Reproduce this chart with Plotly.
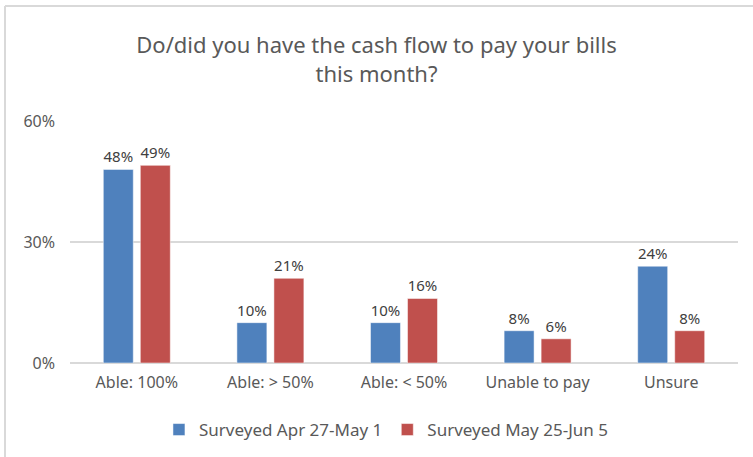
import plotly.graph_objects as go

categories = ["Able: 100%", "Able: > 50%", "Able: < 50%", "Unable to pay", "Unsure"]
series_names = ["Surveyed Apr 27-May 1", "Surveyed May 25-Jun 5"]
apr_values = [48, 10, 10, 8, 24]
may_values = [49, 21, 16, 6, 8]
y_ticks = [0, 30, 60]
y_tick_labels = ["0%", "30%", "60%"]
colors = ["#4F81BD", "#C0504D"]

FONT = "Noto Sans"
fig = go.Figure()
for name, vals, col in zip(series_names, [apr_values, may_values], colors):
    fig.add_trace(go.Bar(
        x=categories, y=vals, name=name,
        marker=dict(color=col, line=dict(color="white", width=0.5)),
        text=[f"{v}%" for v in vals], textposition="outside",
        textfont=dict(family=FONT, size=15, color="#404040"),
        cliponaxis=False,
    ))

W, H = 753, 457
L, R, T, B = 70, 15, 121, 94
pw = W - L - R
ph = H - T - B

fig.update_layout(
    width=W, height=H,
    margin=dict(l=L, r=R, t=T, b=B, autoexpand=False),
    paper_bgcolor="white", plot_bgcolor="white",
    barmode="group", bargap=0.446, bargroupgap=0.19,
    title=dict(text="Do/did you have the cash flow to pay your bills<br>this month?",
               x=0.5, xanchor="center", y=1 - 53 / H, yanchor="middle",
               font=dict(family=FONT, size=22, color="#595959"), automargin=False),
    font=dict(family=FONT, size=16, color="#595959"),
    showlegend=True,
    legend=dict(orientation="h", x=0.473, xanchor="center", y=(363 - 430) / ph, yanchor="middle",
                font=dict(family=FONT, size=17, color="#595959"), itemwidth=30),
    xaxis=dict(showgrid=False, showline=False, ticks="", ticklabelstandoff=8,
               tickfont=dict(size=16, color="#595959")),
    yaxis=dict(range=[0, 60], tickvals=y_ticks, ticktext=y_tick_labels, showgrid=True,
               gridcolor="#D9D9D9", gridwidth=1.5, zeroline=True, zerolinecolor="#D9D9D9",
               zerolinewidth=1.5, showline=False, ticks="", ticklabelstandoff=14,
               tickfont=dict(size=16, color="#595959")),
)

# chart border (left and top edges visible)
fig.add_shape(type="line", xref="paper", yref="paper",
              x0=(5 - L) / pw, x1=(5 - L) / pw, y0=1 + (T - 6) / ph, y1=-(B + 10) / ph,
              line=dict(color="#D9D9D9", width=2))
fig.add_shape(type="line", xref="paper", yref="paper",
              x0=(5 - L) / pw, x1=(W + 10 - L) / pw, y0=1 + (T - 6) / ph, y1=1 + (T - 6) / ph,
              line=dict(color="#D9D9D9", width=2))

fig.write_html("out.html", config={"displayModeBar": False},
               post_script="document.body.style.margin='0';document.body.style.overflow='hidden';")
